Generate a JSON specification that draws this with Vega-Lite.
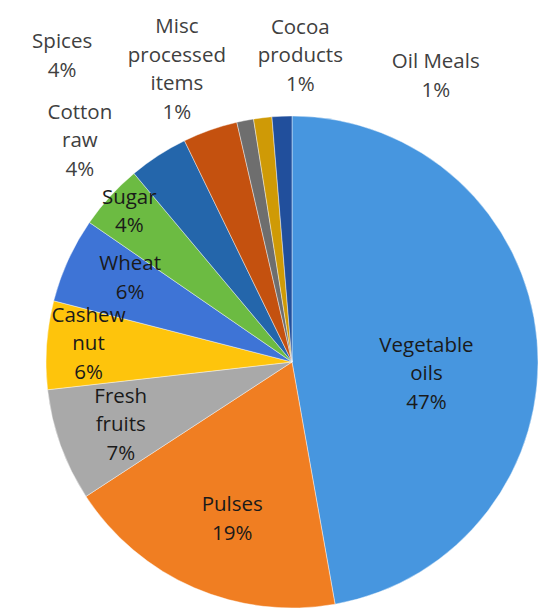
{
  "$schema": "https://vega.github.io/schema/vega-lite/v6.json",
  "width": 492,
  "height": 492,
  "autosize": {"type": "none"},
  "padding": {"left": 46, "top": 116, "right": 4, "bottom": 7},
  "background": "white",
  "config": {"view": {"stroke": null}, "text": {"font": "Open Sans", "fontSize": 20.5, "lineHeight": 28.5, "lineBreak": "\n", "align": "center", "baseline": "middle"}},
  "data": {"values": [
    {"category": "Vegetable oils", "value": 47.2},
    {"category": "Pulses", "value": 18.6},
    {"category": "Fresh fruits", "value": 7.4},
    {"category": "Cashew nut", "value": 5.8},
    {"category": "Wheat", "value": 5.6},
    {"category": "Sugar", "value": 4.3},
    {"category": "Cotton raw", "value": 3.9},
    {"category": "Spices", "value": 3.6},
    {"category": "Misc processed items", "value": 1.1},
    {"category": "Cocoa products", "value": 1.2},
    {"category": "Oil Meals", "value": 1.3}
  ]},
  "transform": [
    {"window": [{"op": "row_number", "as": "idx"}]},
    {"stack": "value", "groupby": [], "sort": [{"field": "idx"}], "as": ["v0", "v1"]},
    {"calculate": "(datum.v0 + datum.v1) / 2", "as": "mid"},
    {"calculate": "(datum.category === 'Oil Meals' ? datum.category : join(split(datum.category, ' '), '\\n')) + '\\n' + format(datum.value / 100, '.0%')", "as": "label"}
  ],
  "layer": [
    {
      "mark": {"type": "arc", "stroke": "#ffffff", "strokeWidth": 0.6, "strokeOpacity": 0.7},
      "encoding": {
        "theta": {"field": "v0", "type": "quantitative", "scale": {"domain": [0, 100]}},
        "theta2": {"field": "v1"},
        "color": {"field": "category", "type": "nominal", "legend": null,
          "scale": {
            "domain": ["Vegetable oils", "Pulses", "Fresh fruits", "Cashew nut", "Wheat", "Sugar", "Cotton raw", "Spices", "Misc processed items", "Cocoa products", "Oil Meals"],
            "range": ["#4796df", "#f07e22", "#a9a9a9", "#fec40c", "#3e74d6", "#6cbb42", "#2466ab", "#c4510f", "#6e6e6e", "#cf9a06", "#214f9c"]
          }}
      }
    },
    {"transform": [{"filter": "datum.category === 'Vegetable oils'"}], "mark": {"type": "text", "radius": 135, "dy": -4.5, "color": "#1a1a1a"},
      "encoding": {"theta": {"field": "mid", "type": "quantitative", "scale": {"domain": [0, 100]}}, "text": {"field": "label"}}},
    {"transform": [{"filter": "datum.category === 'Pulses'"}], "mark": {"type": "text", "radius": 168, "dx": 7, "dy": -11, "color": "#1a1a1a"},
      "encoding": {"theta": {"field": "mid", "type": "quantitative", "scale": {"domain": [0, 100]}}, "text": {"field": "label"}}},
    {"transform": [{"filter": "datum.category === 'Fresh fruits'"}], "mark": {"type": "text", "radius": 182, "dy": -27, "color": "#1a1a1a"},
      "encoding": {"theta": {"field": "mid", "type": "quantitative", "scale": {"domain": [0, 100]}}, "text": {"field": "label"}}},
    {"transform": [{"filter": "datum.category === 'Cashew nut'"}], "mark": {"type": "text", "radius": 204, "dy": -32, "color": "#1a1a1a"},
      "encoding": {"theta": {"field": "mid", "type": "quantitative", "scale": {"domain": [0, 100]}}, "text": {"field": "label"}}},
    {"transform": [{"filter": "datum.category === 'Wheat'"}], "mark": {"type": "text", "radius": 180, "dx": 2, "dy": -23, "color": "#1a1a1a"},
      "encoding": {"theta": {"field": "mid", "type": "quantitative", "scale": {"domain": [0, 100]}}, "text": {"field": "label"}}},
    {"transform": [{"filter": "datum.category === 'Sugar'"}], "mark": {"type": "text", "radius": 220, "dy": -16, "color": "#1a1a1a"},
      "encoding": {"theta": {"field": "mid", "type": "quantitative", "scale": {"domain": [0, 100]}}, "text": {"field": "label"}}},
    {"transform": [{"filter": "datum.category === 'Cotton raw'"}], "mark": {"type": "text", "radius": 300, "dx": -49, "dy": 2.5, "color": "#404040"},
      "encoding": {"theta": {"field": "mid", "type": "quantitative", "scale": {"domain": [0, 100]}}, "text": {"field": "label"}}},
    {"transform": [{"filter": "datum.category === 'Spices'"}], "mark": {"type": "text", "radius": 300, "dx": -130, "dy": -37, "color": "#404040"},
      "encoding": {"theta": {"field": "mid", "type": "quantitative", "scale": {"domain": [0, 100]}}, "text": {"field": "label"}}},
    {"transform": [{"filter": "datum.category === 'Misc processed items'"}], "mark": {"type": "text", "radius": 300, "dx": -58, "dy": -40, "color": "#404040"},
      "encoding": {"theta": {"field": "mid", "type": "quantitative", "scale": {"domain": [0, 100]}}, "text": {"field": "label"}}},
    {"transform": [{"filter": "datum.category === 'Cocoa products'"}], "mark": {"type": "text", "radius": 300, "dx": 44, "dy": -36.5, "color": "#404040"},
      "encoding": {"theta": {"field": "mid", "type": "quantitative", "scale": {"domain": [0, 100]}}, "text": {"field": "label"}}},
    {"transform": [{"filter": "datum.category === 'Oil Meals'"}], "mark": {"type": "text", "radius": 300, "dx": 156, "dy": 0, "color": "#404040"},
      "encoding": {"theta": {"field": "mid", "type": "quantitative", "scale": {"domain": [0, 100]}}, "text": {"field": "label"}}}
  ]
}
